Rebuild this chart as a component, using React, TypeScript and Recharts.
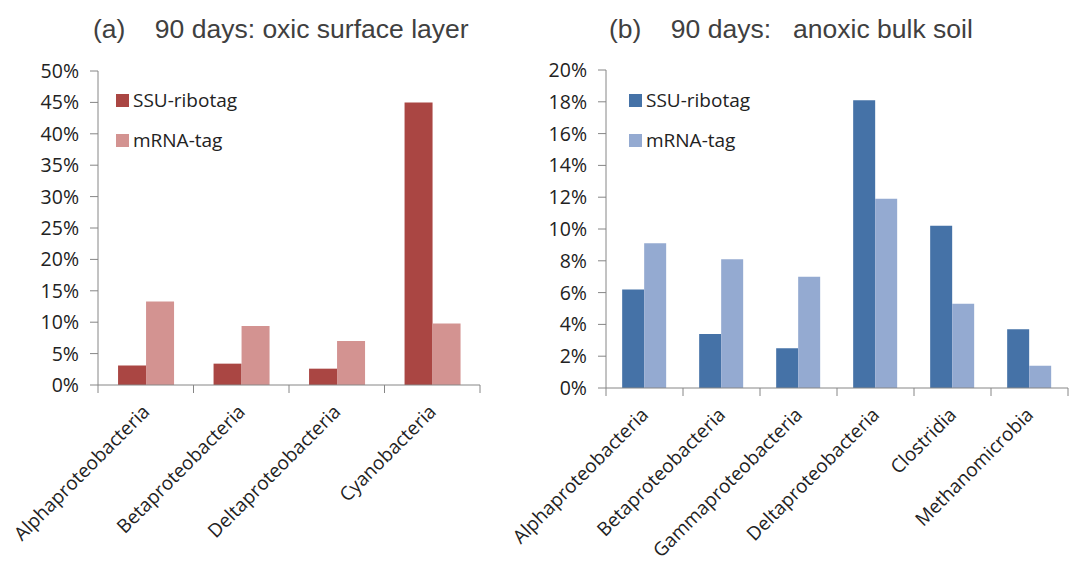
import { BarChart, Bar, XAxis, YAxis } from "recharts";

// (a) oxic surface layer
const oxicTaxa = [
  "Alphaproteobacteria",
  "Betaproteobacteria",
  "Deltaproteobacteria",
  "Cyanobacteria",
];
const oxicSsu = [3.1, 3.4, 2.6, 45.0];
const oxicMrna = [13.3, 9.4, 7.0, 9.8];
const oxicTicks = [0, 5, 10, 15, 20, 25, 30, 35, 40, 45, 50];

// (b) anoxic bulk soil
const anoxicTaxa = [
  "Alphaproteobacteria",
  "Betaproteobacteria",
  "Gammaproteobacteria",
  "Deltaproteobacteria",
  "Clostridia",
  "Methanomicrobia",
];
const anoxicSsu = [6.2, 3.4, 2.5, 18.1, 10.2, 3.7];
const anoxicMrna = [9.1, 8.1, 7.0, 11.9, 5.3, 1.4];
const anoxicTicks = [0, 2, 4, 6, 8, 10, 12, 14, 16, 18, 20];

const FONT = "'Open Sans', sans-serif";
const AXIS = "#868686";

const toRows = (taxa: string[], ssu: number[], mrna: number[]) =>
  taxa.map((name, i) => ({ name, ssu: ssu[i], mrna: mrna[i] }));

// category label at 45° plus tick marks on the band edges
const BandTick = (props: any) => {
  const { x, y, payload, index, visibleTicksCount } = props;
  const half = payload.offset || 0;
  const last = index === visibleTicksCount - 1;
  const lx = x + 5;
  const ly = y + 20;
  return (
    <g>
      <line x1={x - half} y1={y - 8} x2={x - half} y2={y} stroke={AXIS} />
      {last && (
        <line x1={x + half} y1={y - 8} x2={x + half} y2={y} stroke={AXIS} />
      )}
      <text
        x={lx}
        y={ly}
        textAnchor="end"
        transform={`rotate(-45 ${lx} ${ly})`}
        fontFamily={FONT}
        fontSize={19}
        fill="#222"
      >
        {payload.value}
      </text>
    </g>
  );
};

const Legend2 = ({ x, colors }: { x: number; colors: [string, string] }) => (
  <>
    {["SSU-ribotag", "mRNA-tag"].map((t, i) => (
      <div
        key={t}
        style={{
          position: "absolute",
          left: x,
          top: 87 + i * 40,
          display: "flex",
          alignItems: "center",
          fontFamily: FONT,
          fontSize: 19,
          color: "#222",
        }}
      >
        <span
          style={{
            width: 13,
            height: 13,
            background: colors[i],
            marginRight: 4,
            display: "inline-block",
          }}
        />
        {t}
      </div>
    ))}
  </>
);

const Panel = ({
  left,
  width,
  title,
  titleX,
  data,
  ticks,
  padLeft,
  yWidth,
  rightMargin,
  dark,
  light,
  legendX,
  top,
  bottom,
}: any) => (
  <div style={{ position: "absolute", left, top: 0, width, height: 563 }}>
    <BarChart
      width={width}
      height={563}
      data={data}
      margin={{ top, right: rightMargin, left: padLeft, bottom: 8 }}
      barGap={0}
      barCategoryGap="21%"
    >
      <XAxis
        dataKey="name"
        interval={0}
        height={563 - bottom - 8}
        tickLine={false}
        axisLine={{ stroke: AXIS }}
        tick={<BandTick />}
      />
      <YAxis
        width={yWidth}
        domain={[ticks[0], ticks[ticks.length - 1]]}
        ticks={ticks}
        interval={0}
        tickSize={8}
        tickMargin={11}
        tickLine={{ stroke: AXIS }}
        axisLine={{ stroke: AXIS }}
        tickFormatter={(v: number) => `${v}%`}
        tick={{ fontFamily: FONT, fontSize: 19.5, fill: "#222" }}
      />
      <Bar dataKey="ssu" fill={dark} isAnimationActive={false} />
      <Bar dataKey="mrna" fill={light} isAnimationActive={false} />
    </BarChart>
    <div
      style={{
        position: "absolute",
        left: titleX,
        top: 14,
        fontFamily: "'Liberation Sans', Arial, sans-serif",
        fontSize: 26.5,
        color: "#404040",
        whiteSpace: "pre",
      }}
    >
      {title}
    </div>
    <Legend2 x={legendX} colors={[dark, light]} />
  </div>
);

export default function App() {
  return (
    <div
      style={{
        position: "absolute",
        left: 0,
        top: 0,
        width: 1072,
        height: 563,
        background: "#fff",
      }}
    >
      <Panel
        left={0}
        width={536}
        title={"(a)    90 days: oxic surface layer"}
        titleX={93}
        data={toRows(oxicTaxa, oxicSsu, oxicMrna)}
        ticks={oxicTicks}
        padLeft={0}
        yWidth={98}
        rightMargin={56}
        dark="#AA4643"
        light="#D39391"
        legendX={116}
        top={71}
        bottom={385}
      />
      <Panel
        left={400}
        width={672}
        title={"(b)    90 days:   anoxic bulk soil"}
        titleX={209}
        data={toRows(anoxicTaxa, anoxicSsu, anoxicMrna)}
        ticks={anoxicTicks}
        padLeft={136}
        yWidth={70}
        rightMargin={4}
        dark="#4572A7"
        light="#94AAD1"
        legendX={229}
        top={70}
        bottom={388}
      />
    </div>
  );
}
